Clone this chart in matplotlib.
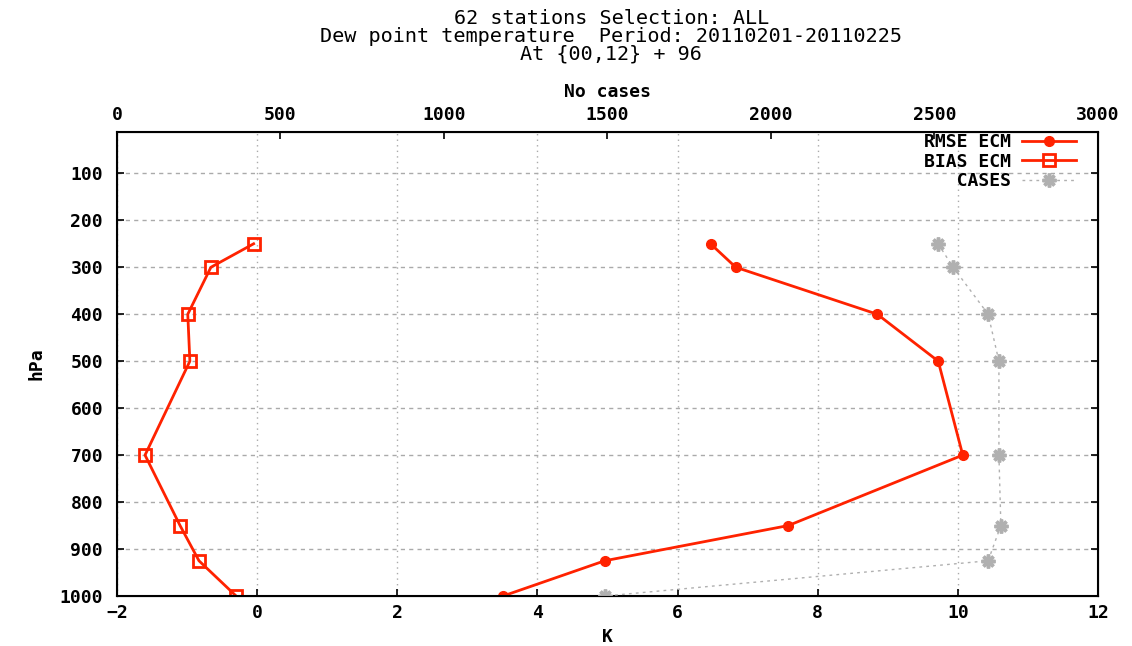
import numpy as np
import matplotlib
matplotlib.use("Agg")
import matplotlib.pyplot as plt

# pressure levels (hPa)
levels = [250, 300, 400, 500, 700, 850, 925, 1000]
# dew point scores (K)
rmse_ecm = [6.47, 6.83, 8.85, 9.72, 10.07, 7.58, 4.96, 3.51]
bias_ecm = [-0.05, -0.66, -0.99, -0.96, -1.60, -1.10, -0.83, -0.30]
# number of cases
cases = [2511, 2557, 2664, 2697, 2697, 2703, 2664, 1492]

red = "#ff2200"
grey = "#b0b0b0"
fnt = "DejaVu Sans Mono"
fs = 13

fig = plt.figure(figsize=(11.32, 6.46), dpi=100)
ax = fig.add_axes([117 / 1132, 50 / 646, 981 / 1132, 464 / 646])

l1, = ax.plot(rmse_ecm, levels, color=red, lw=2, marker="o", ms=7, label="RMSE ECM")
l2, = ax.plot(bias_ecm, levels, color=red, lw=2, marker="s", ms=8,
              mfc="none", mew=2, label="BIAS ECM")
ax.set_xlim(-2, 12)
ax.set_ylim(1000, 12)
ax.set_xticks(np.arange(-2, 13, 2))
ax.set_yticks(np.arange(100, 1001, 100))
ax.tick_params(direction="in", top=True, right=True, length=5, width=1.2,
               labelsize=fs, pad=6)
ax.tick_params(axis="y", pad=10)
for t in ax.get_xticklabels() + ax.get_yticklabels():
    t.set_fontfamily(fnt)
    t.set_fontweight("bold")
ax.xaxis.grid(True, color="#aaaaaa", ls=(0, (1, 3)), lw=1)
ax.yaxis.grid(True, color="#aaaaaa", ls=(0, (3, 3)), lw=1)
ax.set_xlabel("K", fontfamily=fnt, fontweight="bold", fontsize=fs, labelpad=4)
ax.set_ylabel("hPa", fontfamily=fnt, fontweight="bold", fontsize=fs, labelpad=10)
for s in ax.spines.values():
    s.set_linewidth(1.5)

ax2 = ax.twiny()
l3, = ax2.plot(cases, levels, color=grey, lw=1, ls=(0, (2, 3)),
               marker=(8, 2, 0), ms=10, mew=2.5, label="   CASES")
ax2.set_xlim(0, 3000)
ax2.set_xticks(np.arange(0, 3001, 500))
ax2.tick_params(direction="in", length=5, width=1.2, labelsize=fs, pad=6)
for t in ax2.get_xticklabels():
    t.set_fontfamily(fnt)
    t.set_fontweight("bold")
ax2.set_xlabel("No cases", fontfamily=fnt, fontweight="bold", fontsize=fs, labelpad=6)

leg = ax2.legend(handles=[l1, l2, l3], loc="upper right", frameon=False,
                 markerfirst=False, handlelength=3.0, borderaxespad=0,
                 bbox_to_anchor=(0.985, 1.013),
                 labelspacing=0.08, handletextpad=0.6,
                 prop={"family": fnt, "weight": "bold", "size": fs})

fig.text(0.54, 0.972, "62 stations Selection: ALL", ha="center", va="center",
         fontfamily=fnt, fontsize=14.5)
fig.text(0.54, 0.944, "Dew point temperature  Period: 20110201-20110225", ha="center",
         va="center", fontfamily=fnt, fontsize=14.5)
fig.text(0.54, 0.917, "At {00,12} + 96", ha="center", va="center",
         fontfamily=fnt, fontsize=14.5)

fig.savefig("out.png", dpi=100)
